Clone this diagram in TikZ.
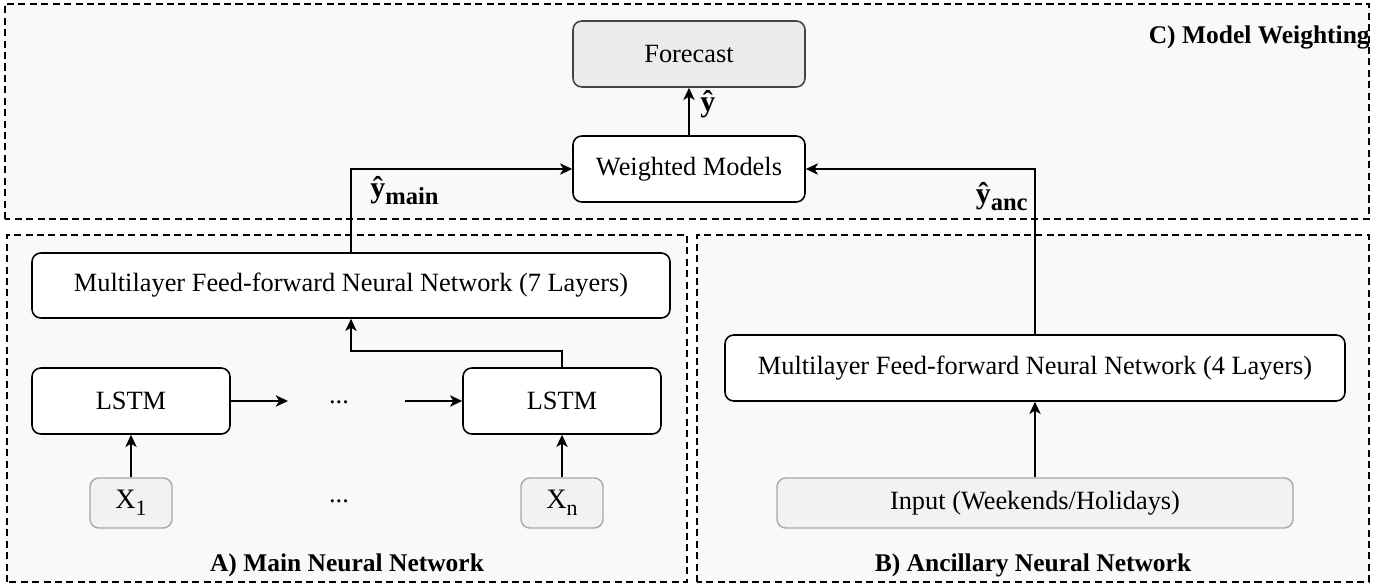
\documentclass[tikz,border=0pt]{standalone}
\usepackage{amsmath}
\usepackage{fontspec}
\setmainfont{Liberation Serif}
\usetikzlibrary{arrows.meta}

\definecolor{panelbg}{HTML}{F9F9F9}
\definecolor{outfill}{HTML}{EBEBEB}
\definecolor{outline}{HTML}{444444}
\definecolor{infill}{HTML}{F2F2F2}
\definecolor{inline}{HTML}{A8A8A8}

\newcommand{\yhatlabel}[1]{\fontsize{17}{20}\selectfont\bfseries\^{y}\raisebox{-0.45ex}{\fontsize{14}{16}\selectfont #1}}
\newcommand{\xinput}[1]{\fontsize{16}{19}\selectfont X\raisebox{-0.5ex}{\fontsize{12.5}{15}\selectfont #1}}

\begin{document}
\begin{tikzpicture}[
    font=\fontsize{15}{18}\selectfont,
    panel/.style={draw, dash pattern=on 4pt off 2.5pt, fill=panelbg, line width=0.8pt},
    block/.style={draw, rounded corners=5pt, fill=white, line width=0.9pt, minimum height=1.32cm},
    outbox/.style={block, draw=outline, fill=outfill},
    inbox/.style={draw=inline, fill=infill, rounded corners=5pt, line width=0.8pt, minimum height=1cm},
    arr/.style={-{Stealth[length=7pt,width=6.5pt,inset=2pt]}, line width=0.9pt},
    title/.style={font=\fontsize{14.5}{17}\selectfont\bfseries}
]
    \useasboundingbox (0,0) rectangle (27.9,11.74);

    % draw panels
    \draw[panel] (0.1,7.36) rectangle (27.38,11.66);
    \draw[panel] (0.14,0.1) rectangle (13.74,7.04);
    \draw[panel] (13.94,0.1) rectangle (27.38,7.04);

    \node[title, anchor=east, inner sep=0pt] (ctitle) at (27.4,11.0) {C) Model Weighting};
    \node[title] (atitle) at (6.94,0.44) {A) Main Neural Network};
    \node[title] (btitle) at (20.66,0.44) {B) Ancillary Neural Network};

    % draw model weighting
    \node[outbox, minimum width=4.64cm] (forecast) at (13.78,10.66) {Forecast};
    \node[block, minimum width=4.64cm] (weighted) at (13.78,8.36) {Weighted Models};

    % draw main network
    \node[block, minimum width=12.76cm, minimum height=1.3cm] (mlpmain) at (7.02,6.03) {Multilayer Feed-forward Neural Network (7 Layers)};
    \node[block, minimum width=3.96cm] (lstma) at (2.62,3.72) {LSTM};
    \node[block, minimum width=3.96cm] (lstmb) at (11.24,3.72) {LSTM};
    \node[inbox, minimum width=1.64cm] (xa) at (2.62,1.68) {\xinput{1}};
    \node[inbox, minimum width=1.64cm] (xb) at (11.24,1.68) {\xinput{n}};
    \node[anchor=base] (dotsa) at (6.78,3.68) {...};
    \node[anchor=base] (dotsb) at (6.78,1.70) {...};
    \coordinate (gapa) at (5.76,3.72);
    \coordinate (gapb) at (8.1,3.72);

    % draw ancillary network
    \node[block, minimum width=12.4cm, minimum height=1.32cm] (mlpanc) at (20.7,4.38) {Multilayer Feed-forward Neural Network (4 Layers)};
    \node[inbox, minimum width=10.32cm] (input) at (20.7,1.68) {Input (Weekends/Holidays)};

    % draw arrows
    \draw[arr] (xa) -- (lstma);
    \draw[arr] (xb) -- (lstmb);
    \draw[arr] (lstma) -- (gapa);
    \draw[arr] (gapb) -- (lstmb);
    \draw[arr] (lstmb.north) -- ++(0,0.32) -| (mlpmain.south);
    \draw[arr] (input) -- (mlpanc);
    \draw[arr] (mlpmain.north) |- (weighted.west);
    \draw[arr] (mlpanc.north) |- (weighted.east);
    \draw[arr] (weighted) -- (forecast);

    % draw labels
    \node[anchor=base west, inner sep=0pt] (yhat) at (14.0,9.5) {\yhatlabel{}};
    \node[anchor=base west, inner sep=0pt] (yhatmain) at (7.4,7.78) {\yhatlabel{main}};
    \node[anchor=base east, inner sep=0pt] (yhatanc) at (20.56,7.66) {\yhatlabel{anc}};
\end{tikzpicture}
\end{document}
